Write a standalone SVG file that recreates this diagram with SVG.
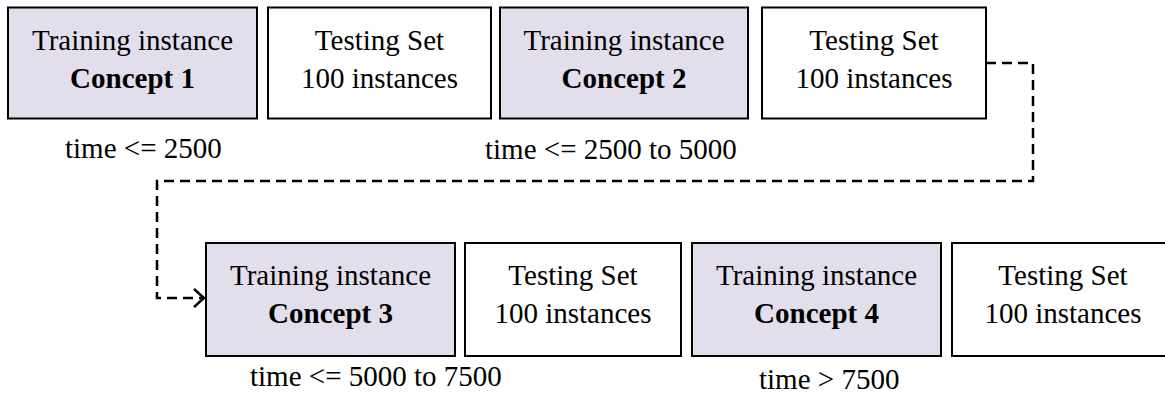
<svg xmlns="http://www.w3.org/2000/svg" width="1165" height="399" viewBox="0 0 1165 399">
  <style>
    .box { stroke: #000; stroke-width: 2; }
    .train { fill: #E3DEEB; }
    .test { fill: #FFFFFF; }
    text { font-family: "Liberation Serif", "Times New Roman", serif; font-size: 29px; fill: #000; }
    .c { text-anchor: middle; }
    .b { font-weight: bold; }
    .flow { fill: none; stroke: #000; stroke-width: 2.5; stroke-dasharray: 10 6; }
  </style>
  <defs>
    <marker id="chevron" markerWidth="14" markerHeight="22" refX="11" refY="11" orient="auto" markerUnits="userSpaceOnUse">
      <path d="M1,2 L11,11 L1,20" fill="none" stroke="#000" stroke-width="2.5"/>
    </marker>
  </defs>

  <!-- Row 1 -->
  <g id="train1">
    <rect class="box train" x="8" y="7.5" width="249" height="111"/>
    <text class="c" x="132.5" y="50">Training instance</text>
    <text class="c b" x="132.5" y="88">Concept 1</text>
  </g>
  <g id="test1">
    <rect class="box test" x="268" y="7.5" width="223" height="111"/>
    <text class="c" x="379.5" y="50">Testing Set</text>
    <text class="c" x="379.5" y="88">100 instances</text>
  </g>
  <g id="train2">
    <rect class="box train" x="500" y="7.5" width="248" height="111"/>
    <text class="c" x="624" y="50">Training instance</text>
    <text class="c b" x="624" y="88">Concept 2</text>
  </g>
  <g id="test2">
    <rect class="box test" x="762" y="7.5" width="224" height="111"/>
    <text class="c" x="874" y="50">Testing Set</text>
    <text class="c" x="874" y="88">100 instances</text>
  </g>

  <!-- Row 2 -->
  <g id="train3">
    <rect class="box train" x="206" y="243" width="249" height="113"/>
    <text class="c" x="330.5" y="285">Training instance</text>
    <text class="c b" x="330.5" y="323">Concept 3</text>
  </g>
  <g id="test3">
    <rect class="box test" x="465" y="243" width="216" height="113"/>
    <text class="c" x="573" y="285">Testing Set</text>
    <text class="c" x="573" y="323">100 instances</text>
  </g>
  <g id="train4">
    <rect class="box train" x="692" y="243" width="249" height="113"/>
    <text class="c" x="816.5" y="285">Training instance</text>
    <text class="c b" x="816.5" y="323">Concept 4</text>
  </g>
  <g id="test4">
    <rect class="box test" x="952" y="243" width="222" height="113"/>
    <text class="c" x="1063" y="285">Testing Set</text>
    <text class="c" x="1063" y="323">100 instances</text>
  </g>

  <!-- Time ranges -->
  <g id="labels">
    <text x="65" y="158">time &lt;= 2500</text>
    <text x="485" y="159">time &lt;= 2500 to 5000</text>
    <text x="250" y="386">time &lt;= 5000 to 7500</text>
    <text x="759" y="389">time &gt; 7500</text>
  </g>

  <!-- Connectors -->
  <g id="connectors">
    <path class="flow" d="M986,63 H1033 V181 H157 V298 H204" marker-end="url(#chevron)"/>
  </g>
</svg>
